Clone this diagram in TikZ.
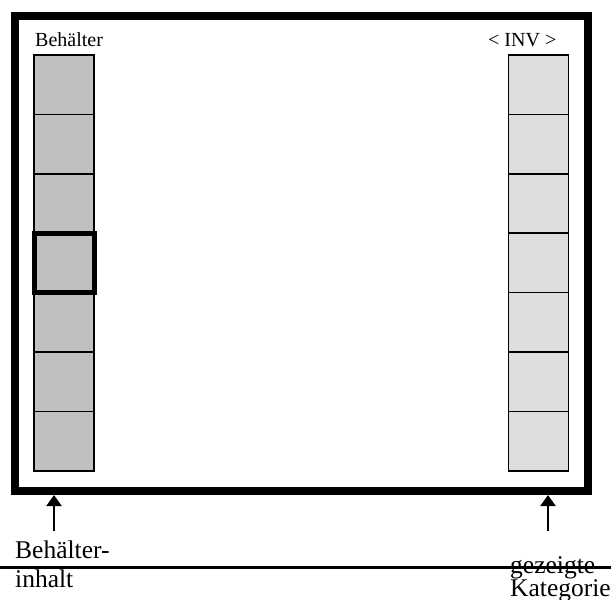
\documentclass[tikz,border=0pt]{standalone}
\usepackage{fontspec}
\setmainfont{Liberation Serif}
\usetikzlibrary{arrows.meta}
\definecolor{lgray}{HTML}{C0C0C0}
\definecolor{rgray}{HTML}{DDDDDD}
\begin{document}
\begin{tikzpicture}[x=1pt,y=-1pt,
  cellbox/.style={draw=black,line width=1.5pt,minimum width=60pt,minimum height=59.4pt,inner sep=0pt,outer sep=0pt},
  lcell/.style={cellbox,fill=lgray},
  rcell/.style={cellbox,fill=rgray},
  toplabel/.style={font=\fontsize{20}{22}\selectfont,inner sep=0pt,anchor=base west},
  botlabel/.style={font=\fontsize{25.5}{28}\selectfont,inner sep=0pt,anchor=base west},
  pointer/.style={line width=2pt,-{Triangle[width=15pt,length=11pt]}}]
\useasboundingbox (0,0) rectangle (611,600);
\clip (0,0) rectangle (611,600);
\fill[white] (0,0) rectangle (611,600);
% frame
\draw[line width=8pt] (15,16) rectangle (588,491);
\coordinate (fl) at (54,495);
\coordinate (fr) at (548,495);
% cells
\foreach \i in {1,...,7}{
  \node[lcell] (L\i) at (64,{55+29.7+59.4*(\i-1)}) {};
  \node[rcell] (R\i) at (538.5,{55+29.7+59.4*(\i-1)}) {};
}
\draw[line width=5pt] (L4.north west) rectangle (L4.south east);
% labels
\node[toplabel] (tb) at (35,46) {Behälter};
\node[toplabel] (ti) at (488,46) {< INV >};
% bottom rule
\coordinate (hl) at (0,567);
\coordinate (hr) at (611,567);
\draw[line width=3pt] (hl) -- (hr);
\node[botlabel] (b1) at (15,558) {Behälter-};
\node[botlabel] (b2) at (15,587) {inhalt};
\node[botlabel] (g1) at (510,573) {gezeigte};
\node[botlabel] (g2) at (510,596) {Kategorie};
% arrows
\coordinate (al) at (54,531);
\coordinate (ar) at (548,531);
\draw[pointer] (al) -- (fl);
\draw[pointer] (ar) -- (fr);
\end{tikzpicture}
\end{document}
